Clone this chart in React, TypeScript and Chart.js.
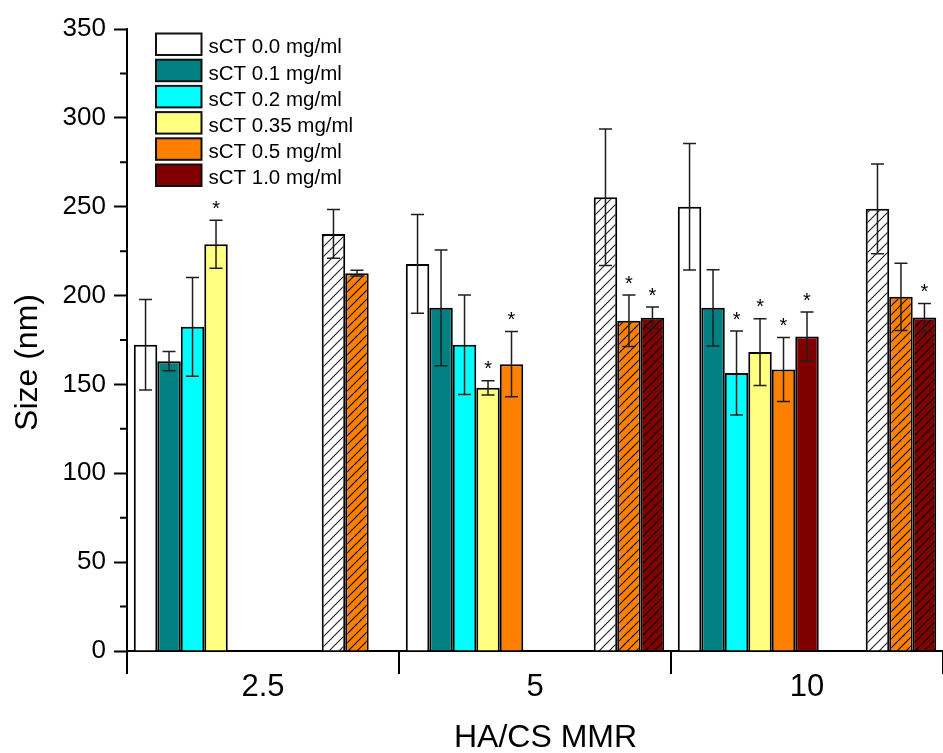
import React, { useEffect, useRef } from 'react';
import { Chart, registerables } from 'chart.js';

Chart.register(...registerables);

// ---------- data ----------
const categories = ['2.5', '5', '10'];

const seriesLabels = [
  'sCT 0.0 mg/ml',
  'sCT 0.1 mg/ml',
  'sCT 0.2 mg/ml',
  'sCT 0.35 mg/ml',
  'sCT 0.5 mg/ml',
  'sCT 1.0 mg/ml',
];
const seriesColors = ['#FFFFFF', '#008080', '#00FFFF', '#FFFF80', '#FF8000', '#800000'];

// plain bars (one value per HA/CS MMR category)
const sct00 = [172.3, 217.8, 250.0];
const sct00Err = [25.5, 27.8, 35.6];
const sct00Sig = [false, false, false];

const sct01 = [163.1, 193.1, 193.1];
const sct01Err = [5.4, 32.6, 21.5];
const sct01Sig = [false, false, false];

const sct02 = [182.4, 172.3, 156.4];
const sct02Err = [27.8, 28.0, 23.6];
const sct02Sig = [false, false, true];

const sct035 = [228.9, 148.1, 168.2];
const sct035Err = [13.5, 4.0, 18.8];
const sct035Sig = [true, true, true];

const sct05 = [null, 161.4, 158.4];
const sct05Err = [0, 18.4, 18.0];
const sct05Sig = [false, true, true];

const sct10 = [null, null, 176.9];
const sct10Err = [0, 0, 13.8];
const sct10Sig = [false, false, true];

// hatched bars
const hatch00 = [234.7, 255.3, 248.8];
const hatch00Err = [13.7, 38.4, 25.3];
const hatch00Sig = [false, false, false];

const hatch05 = [212.6, 185.8, 199.3];
const hatch05Err = [1.6, 14.5, 18.9];
const hatch05Sig = [false, true, false];

const hatch10 = [null, 187.5, 187.6];
const hatch10Err = [0, 6.0, 8.0];
const hatch10Sig = [false, true, true];

const yTicksMajor = [0, 50, 100, 150, 200, 250, 300, 350];
const yTicksMinor = [25, 75, 125, 175, 225, 275, 325];

const xTitle = 'HA/CS MMR';
const yTitle = 'Size (nm)';

const FONT = '"Liberation Sans", Arial, Helvetica, sans-serif';

function makeHatch(bg: string, line: string, s: number) {
  const c = document.createElement('canvas');
  c.width = s;
  c.height = s;
  const g = c.getContext('2d')!;
  g.fillStyle = bg;
  g.fillRect(0, 0, s, s);
  g.strokeStyle = line;
  g.lineWidth = 1.1;
  g.beginPath();
  g.moveTo(0, s);
  g.lineTo(s, 0);
  g.moveTo(-s / 2, s / 2);
  g.lineTo(s / 2, -s / 2);
  g.moveTo(s / 2, s * 1.5);
  g.lineTo(s * 1.5, s / 2);
  g.stroke();
  return g.createPattern(c, 'repeat')!;
}

const errorBarPlugin = {
  id: 'errorBars',
  afterDatasetsDraw(chart: any) {
    const ctx = chart.ctx;
    const yScale = chart.scales.y;
    ctx.save();
    chart.data.datasets.forEach((ds: any, i: number) => {
      if (!ds.errors) return;
      const meta = chart.getDatasetMeta(i);
      meta.data.forEach((bar: any, j: number) => {
        const v = ds.data[j];
        if (v == null) return;
        const e = ds.errors[j] || 0;
        const x = bar.x;
        const yt = yScale.getPixelForValue(v + e);
        const yb = yScale.getPixelForValue(v - e);
        ctx.strokeStyle = '#1e1e1e';
        ctx.lineWidth = 1.5;
        ctx.beginPath();
        ctx.moveTo(x, yt);
        ctx.lineTo(x, yb);
        ctx.moveTo(x - 6.5, yt);
        ctx.lineTo(x + 6.5, yt);
        ctx.moveTo(x - 6.5, yb);
        ctx.lineTo(x + 6.5, yb);
        ctx.stroke();
        if (ds.sig && ds.sig[j]) {
          ctx.fillStyle = '#000';
          ctx.font = `20px ${FONT}`;
          ctx.textAlign = 'center';
          ctx.textBaseline = 'alphabetic';
          ctx.fillText('*', x, yt - 17 + 11.5);
        }
      });
    });
    ctx.restore();
  },
};

const decorPlugin = {
  id: 'decor',
  afterDraw(chart: any) {
    const ctx = chart.ctx;
    const yScale = chart.scales.y;
    const area = chart.chartArea;
    ctx.save();
    // minor ticks on y axis
    ctx.strokeStyle = '#000';
    ctx.lineWidth = 2;
    ctx.beginPath();
    yTicksMinor.forEach((v) => {
      const py = yScale.getPixelForValue(v);
      ctx.moveTo(area.left - 7, py);
      ctx.lineTo(area.left, py);
    });
    ctx.stroke();

    // axis titles
    ctx.fillStyle = '#000';
    ctx.font = `32px ${FONT}`;
    ctx.textAlign = 'center';
    ctx.textBaseline = 'alphabetic';
    ctx.fillText(xTitle, 545.5, 746.5);

    ctx.save();
    ctx.translate(37, 362.5);
    ctx.rotate(-Math.PI / 2);
    ctx.fillText(yTitle, 0, 0);
    ctx.restore();

    // legend
    const boxX = 156;
    const boxW = 45.5;
    const boxH = 21.5;
    const top0 = 33.5;
    const pitch = 26.2;
    ctx.font = `20.5px ${FONT}`;
    ctx.textAlign = 'left';
    ctx.textBaseline = 'alphabetic';
    seriesLabels.forEach((lab, i) => {
      const ty = top0 + i * pitch;
      ctx.fillStyle = seriesColors[i];
      ctx.fillRect(boxX, ty, boxW, boxH);
      ctx.strokeStyle = '#111';
      ctx.lineWidth = 2;
      ctx.strokeRect(boxX, ty, boxW, boxH);
      ctx.fillStyle = '#000';
      ctx.fillText(lab, 208.5, ty + boxH / 2 + 9.2);
    });
    ctx.restore();
  },
};

export default function App() {
  const ref = useRef<HTMLCanvasElement | null>(null);

  useEffect(() => {
    const canvas = ref.current;
    if (!canvas) return;

    const mk = (data: any[], errors: number[], sig: boolean[], bg: any, label: string) => ({
      label,
      data,
      errors,
      sig,
      backgroundColor: bg,
      borderColor: '#000',
      borderWidth: 2,
    });
    const gap = (label: string) => ({
      label,
      data: [null, null, null],
      backgroundColor: 'transparent',
      borderWidth: 0,
    });

    const datasets: any[] = [
      mk(sct00, sct00Err, sct00Sig, seriesColors[0], seriesLabels[0]),
      mk(sct01, sct01Err, sct01Sig, seriesColors[1], seriesLabels[1]),
      mk(sct02, sct02Err, sct02Sig, seriesColors[2], seriesLabels[2]),
      mk(sct035, sct035Err, sct035Sig, seriesColors[3], seriesLabels[3]),
      mk(sct05, sct05Err, sct05Sig, seriesColors[4], seriesLabels[4]),
      mk(sct10, sct10Err, sct10Sig, seriesColors[5], seriesLabels[5]),
      gap('gap1'),
      gap('gap2'),
      mk(hatch00, hatch00Err, hatch00Sig, makeHatch('#FFFFFF', '#222', 10), seriesLabels[0] + ' (hatched)'),
      mk(hatch05, hatch05Err, hatch05Sig, makeHatch('#FF8000', '#000', 9), seriesLabels[4] + ' (hatched)'),
      mk(hatch10, hatch10Err, hatch10Sig, makeHatch('#800000', '#000', 9), seriesLabels[5] + ' (hatched)'),
    ];

    const chart = new Chart(canvas, {
      type: 'bar',
      data: { labels: categories, datasets },
      options: {
        animation: false,
        responsive: false,
        devicePixelRatio: 1,
        layout: { padding: { top: 29, right: 0, bottom: 0, left: 0 } },
        datasets: {
          bar: { categoryPercentage: 0.95, barPercentage: 1.0 },
        },
        plugins: {
          legend: { display: false },
          tooltip: { enabled: false },
          title: { display: false },
        },
        scales: {
          x: {
            type: 'category',
            offset: true,
            grid: {
              offset: true,
              drawOnChartArea: false,
              drawTicks: true,
              tickLength: 23,
              tickWidth: 2,
              color: (c: any) => (c.index >= 3 ? 'rgba(0,0,0,0)' : '#000'),
              tickColor: (c: any) => (c.index >= 3 ? 'rgba(0,0,0,0)' : '#000'),
              lineWidth: 2,
            },
            border: { display: true, color: '#000', width: 2 },
            ticks: {
              color: '#000',
              font: { family: FONT, size: 31, lineHeight: 0.9 },
              padding: 0,
              maxRotation: 0,
              autoSkip: false,
            },
            afterFit: (s: any) => {
              s.height = 102;
            },
          },
          y: {
            type: 'linear',
            min: 0,
            max: 350,
            afterBuildTicks: (s: any) => {
              s.ticks = yTicksMajor.map((v) => ({ value: v }));
            },
            grid: {
              drawOnChartArea: false,
              drawTicks: true,
              tickLength: 13,
              tickWidth: 2,
              tickColor: '#000',
              color: '#000',
            },
            border: { display: true, color: '#000', width: 2 },
            ticks: {
              color: '#000',
              font: { family: FONT, size: 26 },
              padding: 8,
            },
            afterFit: (s: any) => {
              s.width = 127;
            },
          },
        },
      },
      plugins: [errorBarPlugin, decorPlugin],
    } as any);

    return () => {
      chart.destroy();
    };
  }, []);

  return (
    <div style={{ position: 'absolute', left: 0, top: 0, width: 943, height: 753, background: '#fff' }}>
      <canvas ref={ref} width={943} height={753} style={{ display: 'block' }} />
    </div>
  );
}
